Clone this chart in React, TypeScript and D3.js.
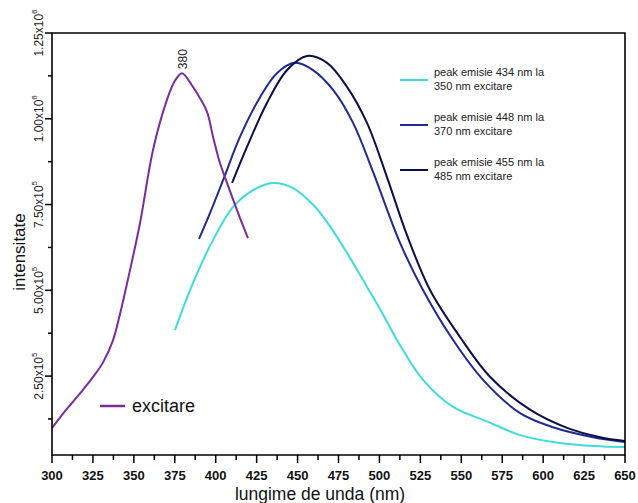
import React from "react";
import * as d3 from "d3";

// excitation spectrum (nm, intensity)
const excNm = [300, 305, 311, 318.9, 325, 331.2, 337.3, 341.5, 347, 353.8, 361.7, 370.2, 375, 379.4, 386.1, 390.4, 394.7, 398.4, 402.6, 406.9, 413, 419.7];
const excVal = [0.99e5, 1.3e5, 1.65e5, 2.1e5, 2.47e5, 2.9e5, 3.55e5, 4.3e5, 5.45e5, 6.97e5, 9.09e5, 1.055e6, 1.11e6, 1.133e6, 1.093e6, 1.06e6, 1.02e6, 9.47e5, 8.71e5, 8.13e5, 7.34e5, 6.52e5];

// emission peak 434 nm (350 nm excitation)
const em434Nm = [375.1, 386.1, 398.4, 410.6, 422.8, 435, 447.2, 459.4, 468, 480.2, 492.4, 500.4, 512.6, 526.6, 545, 565.7, 585.9, 606, 630.5, 650];
const em434Val = [3.84e5, 5.21e5, 6.47e5, 7.43e5, 7.92e5, 8.13e5, 7.98e5, 7.5e5, 6.99e5, 6.09e5, 5.1e5, 4.45e5, 3.4e5, 2.39e5, 1.6e5, 1.18e5, 7.8e4, 5.8e4, 4.6e4, 4.3e4];

// emission peak 448 nm (370 nm excitation)
const em448Nm = [389.8, 396.5, 404.5, 414.8, 427.1, 437.4, 448.4, 459.4, 471.7, 483.9, 496.1, 512.6, 526.6, 545, 563.3, 585.9, 606, 630.5, 650];
const em448Val = [6.5e5, 7.25e5, 8.21e5, 9.47e5, 1.063e6, 1.133e6, 1.163e6, 1.142e6, 1.084e6, 9.88e5, 8.45e5, 6.38e5, 5.01e5, 3.55e5, 2.39e5, 1.42e5, 1.01e5, 7.2e4, 5.8e4];

// emission peak 455 nm (485 nm excitation)
const em455Nm = [410, 419.1, 431.3, 443.6, 455.8, 468, 480.2, 492.4, 504.6, 516.9, 530.9, 549.2, 567.5, 592, 614.6, 634.8, 650];
const em455Val = [8.13e5, 9.18e5, 1.046e6, 1.142e6, 1.183e6, 1.163e6, 1.093e6, 9.88e5, 8.3e5, 6.6e5, 5.01e5, 3.64e5, 2.48e5, 1.52e5, 9.9e4, 7.2e4, 6.1e4];

const xTicks = [300, 325, 350, 375, 400, 425, 450, 475, 500, 525, 550, 575, 600, 625, 650];
const yTicks = [2.5e5, 5e5, 7.5e5, 1e6, 1.25e6];
const yTickMant = ["2.50", "5.00", "7.50", "1.00", "1.25"];
const yTickExp = ["5", "5", "5", "6", "6"];

const emissionLegend = [
  { l1: "peak emisie 434 nm la", l2: "350 nm excitare", color: "#3fdcdc" },
  { l1: "peak emisie 448 nm la", l2: "370 nm excitare", color: "#1e2a92" },
  { l1: "peak emisie 455 nm la", l2: "485 nm excitare", color: "#0b0f4c" },
];

const W = 638;
const H = 503;
const m = { left: 52, right: 625, top: 33, bottom: 455 };

export default function App() {
  const x = d3.scaleLinear().domain([300, 650]).range([m.left, m.right]);
  const y = d3.scaleLinear().domain([2e4, 1.25e6]).range([m.bottom, m.top]);

  const line = d3
    .line<[number, number]>()
    .x((d) => x(d[0]))
    .y((d) => y(d[1]))
    .curve(d3.curveCatmullRom.alpha(0.5));

  const zip = (a: number[], b: number[]) => a.map((v, i) => [v, b[i]] as [number, number]);

  const series = [
    { d: zip(em434Nm, em434Val), color: emissionLegend[0].color },
    { d: zip(em448Nm, em448Val), color: emissionLegend[1].color },
    { d: zip(em455Nm, em455Val), color: emissionLegend[2].color },
    { d: zip(excNm, excVal), color: "#7a2c9e" },
  ];

  const minorX = d3.range(312.5, 650, 25);
  const minorY = d3.range(1.25e5, 1.25e6, 2.5e5);
  const peakIdx = d3.maxIndex(excVal);
  const font = "Arial, 'Liberation Sans', sans-serif";

  return (
    <svg width={W} height={H} style={{ position: "absolute", left: 0, top: 0, background: "#fff" }} fontFamily={font}>
      <rect width={W} height={H} fill="#fff" />
      {series.map((s, i) => (
        <path key={i} d={line(s.d) ?? ""} fill="none" stroke={s.color} strokeWidth={2} />
      ))}

      {/* frame */}
      <path d={`M${m.left},${m.top}H${m.right}V${m.bottom}H${m.left}Z`} fill="none" stroke="#000" strokeWidth={1.6} />

      {/* x axis */}
      {xTicks.map((t) => (
        <g key={t}>
          <line x1={x(t)} x2={x(t)} y1={m.bottom} y2={m.bottom + 8} stroke="#000" strokeWidth={1.5} />
          <text x={x(t)} y={480} textAnchor="middle" fontSize={13} fontWeight="bold" fill="#111">
            {t}
          </text>
        </g>
      ))}
      {minorX.map((t) => (
        <line key={t} x1={x(t)} x2={x(t)} y1={m.bottom} y2={m.bottom + 5} stroke="#000" strokeWidth={1.5} />
      ))}
      <text x={320} y={500} textAnchor="middle" fontSize={17.5} fill="#111">
        lungime de unda (nm)
      </text>

      {/* y axis */}
      {yTicks.map((t, i) => (
        <g key={t}>
          <line x1={m.left - 7} x2={m.left} y1={y(t)} y2={y(t)} stroke="#000" strokeWidth={1.5} />
          <text transform={`translate(43,${y(t)}) rotate(-90)`} textAnchor="middle" fontSize={12} fill="#222">
            {yTickMant[i]}x10
            <tspan dy={-6} fontSize={8}>
              {yTickExp[i]}
            </tspan>
          </text>
        </g>
      ))}
      {minorY.map((t) => (
        <line key={t} x1={m.left - 4} x2={m.left} y1={y(t)} y2={y(t)} stroke="#000" strokeWidth={1.5} />
      ))}
      <text transform="translate(25,252) rotate(-90)" textAnchor="middle" fontSize={17} fill="#111">
        intensitate
      </text>

      {/* peak label */}
      <text transform={`translate(${x(excNm[peakIdx]) + 5},${y(excVal[peakIdx]) - 4}) rotate(-90)`} fontSize={12} fill="#222">
        380
      </text>

      {/* legends */}
      {emissionLegend.map((e, i) => (
        <g key={i} transform={`translate(0,${80 + i * 45})`}>
          <line x1={400} x2={428} y1={0} y2={0} stroke={e.color} strokeWidth={2} />
          <text x={434} y={-4} fontSize={11} fill="#222">
            {e.l1}
          </text>
          <text x={434} y={10} fontSize={11} fill="#222">
            {e.l2}
          </text>
        </g>
      ))}
      <line x1={100} x2={125} y1={406} y2={406} stroke="#7a2c9e" strokeWidth={2.5} />
      <text x={132} y={412} fontSize={18} fill="#111">
        excitare
      </text>
    </svg>
  );
}
